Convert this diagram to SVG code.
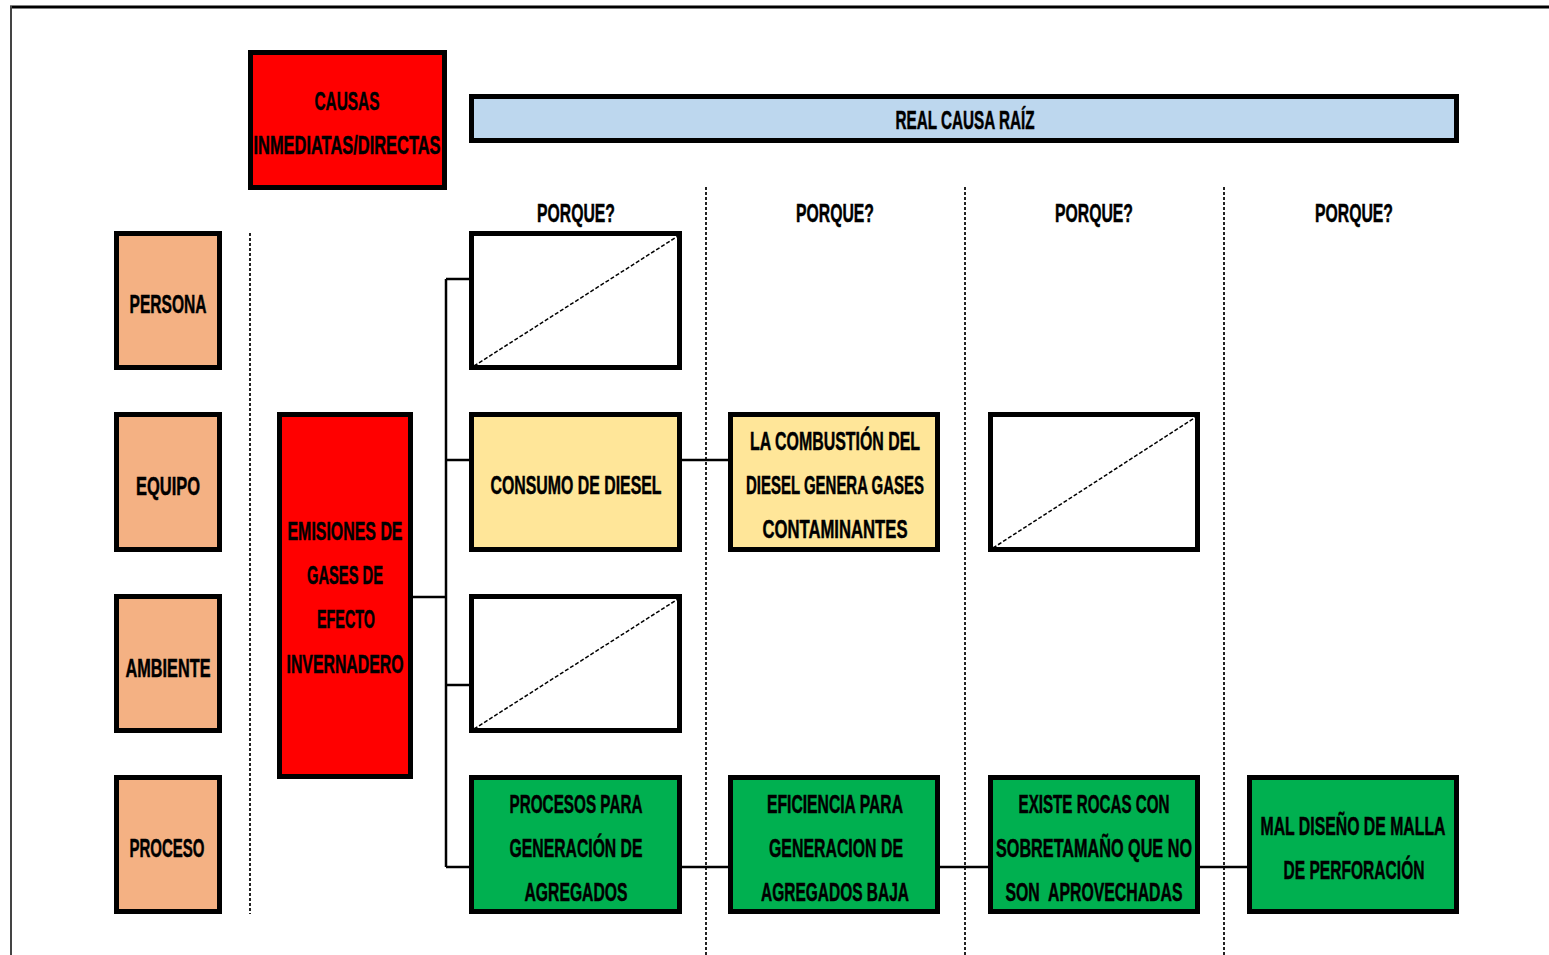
<svg xmlns="http://www.w3.org/2000/svg" width="1549" height="955" viewBox="0 0 1549 955">
<style>
.box{stroke:#000;stroke-width:5}
.red{fill:#FF0000}
.peach{fill:#F4B183}
.yel{fill:#FFE699}
.grn{fill:#00B050}
.blue{fill:#BDD7EE}
.wht{fill:#FFFFFF}
.diag{stroke:#000;stroke-width:1.5;stroke-dasharray:4 2;fill:none}
.sep{stroke:#222;stroke-width:2;stroke-dasharray:3 2;fill:none}
.con{stroke:#000;stroke-width:2.5;fill:none}
text{font-family:"Liberation Sans",Arial,sans-serif;font-weight:bold;font-size:26px;fill:#000;stroke:#000;stroke-width:0.5;text-anchor:middle}
</style>
<rect x="0" y="0" width="1549" height="955" fill="#FFFFFF"/>
<g id="frame">
<line x1="10" y1="7" x2="1549" y2="7" stroke="#000" stroke-width="3"/>
<line x1="11" y1="6" x2="11" y2="955" stroke="#444" stroke-width="2"/>
</g>
<g id="separators">
<line class="sep" x1="250" y1="233" x2="250" y2="914"/>
<line class="sep" x1="706" y1="187" x2="706" y2="955"/>
<line class="sep" x1="965" y1="187" x2="965" y2="955"/>
<line class="sep" x1="1224" y1="187" x2="1224" y2="955"/>
</g>
<g id="connectors">
<line class="con" x1="446" y1="279" x2="446" y2="867"/>
<line class="con" x1="413" y1="597" x2="446" y2="597"/>
<line class="con" x1="446" y1="279" x2="470" y2="279"/>
<line class="con" x1="446" y1="460" x2="470" y2="460"/>
<line class="con" x1="446" y1="685" x2="470" y2="685"/>
<line class="con" x1="446" y1="867" x2="470" y2="867"/>
<line class="con" x1="681" y1="460" x2="729" y2="460"/>
<line class="con" x1="681" y1="867" x2="729" y2="867"/>
<line class="con" x1="939" y1="867" x2="989" y2="867"/>
<line class="con" x1="1199" y1="867" x2="1248" y2="867"/>
</g>
<g id="causas">
<rect class="box red" x="250.5" y="52.5" width="194" height="135"/>
<text x="347" y="110" textLength="65" lengthAdjust="spacingAndGlyphs">CAUSAS</text>
<text x="347" y="154" textLength="187" lengthAdjust="spacingAndGlyphs">INMEDIATAS/DIRECTAS</text>
</g>
<g id="real-causa">
<rect class="box blue" x="471.5" y="96.5" width="985" height="44"/>
<text x="965" y="129" textLength="139" lengthAdjust="spacingAndGlyphs">REAL CAUSA RAÍZ</text>
</g>
<g id="porque-labels">
<text x="576" y="222" textLength="78" lengthAdjust="spacingAndGlyphs">PORQUE?</text>
<text x="835" y="222" textLength="78" lengthAdjust="spacingAndGlyphs">PORQUE?</text>
<text x="1094" y="222" textLength="78" lengthAdjust="spacingAndGlyphs">PORQUE?</text>
<text x="1354" y="222" textLength="78" lengthAdjust="spacingAndGlyphs">PORQUE?</text>
</g>
<g id="persona">
<rect class="box peach" x="116.5" y="233.5" width="103" height="134"/>
<text x="168" y="313" textLength="77" lengthAdjust="spacingAndGlyphs">PERSONA</text>
</g>
<g id="equipo">
<rect class="box peach" x="116.5" y="414.5" width="103" height="135"/>
<text x="168" y="495" textLength="64" lengthAdjust="spacingAndGlyphs">EQUIPO</text>
</g>
<g id="ambiente">
<rect class="box peach" x="116.5" y="596.5" width="103" height="134"/>
<text x="168" y="677" textLength="85" lengthAdjust="spacingAndGlyphs">AMBIENTE</text>
</g>
<g id="proceso">
<rect class="box peach" x="116.5" y="777.5" width="103" height="134"/>
<text x="167" y="857" textLength="75" lengthAdjust="spacingAndGlyphs">PROCESO</text>
</g>
<g id="emisiones">
<rect class="box red" x="279.5" y="414.5" width="131" height="362"/>
<text x="345" y="540" textLength="115" lengthAdjust="spacingAndGlyphs">EMISIONES DE</text>
<text x="345" y="584" textLength="76" lengthAdjust="spacingAndGlyphs">GASES DE</text>
<text x="346" y="628" textLength="58" lengthAdjust="spacingAndGlyphs">EFECTO</text>
<text x="345" y="673" textLength="117" lengthAdjust="spacingAndGlyphs">INVERNADERO</text>
</g>
<g id="blank-1">
<rect class="box wht" x="471.5" y="233.5" width="208" height="134"/>
<line class="diag" x1="474" y1="366" x2="678" y2="236"/>
</g>
<g id="consumo">
<rect class="box yel" x="471.5" y="414.5" width="208" height="135"/>
<text x="576" y="494" textLength="171" lengthAdjust="spacingAndGlyphs">CONSUMO DE DIESEL</text>
</g>
<g id="blank-2">
<rect class="box wht" x="471.5" y="596.5" width="208" height="134"/>
<line class="diag" x1="474" y1="729" x2="678" y2="599"/>
</g>
<g id="procesos">
<rect class="box grn" x="471.5" y="777.5" width="208" height="134"/>
<text x="576" y="813" textLength="133" lengthAdjust="spacingAndGlyphs">PROCESOS PARA</text>
<text x="576" y="857" textLength="133" lengthAdjust="spacingAndGlyphs">GENERACIÓN DE</text>
<text x="576" y="901" textLength="103" lengthAdjust="spacingAndGlyphs">AGREGADOS</text>
</g>
<g id="combustion">
<rect class="box yel" x="730.5" y="414.5" width="207" height="135"/>
<text x="835" y="450" textLength="170" lengthAdjust="spacingAndGlyphs">LA COMBUSTIÓN DEL</text>
<text x="835" y="494" textLength="178" lengthAdjust="spacingAndGlyphs">DIESEL GENERA GASES</text>
<text x="835" y="538" textLength="145" lengthAdjust="spacingAndGlyphs">CONTAMINANTES</text>
</g>
<g id="eficiencia">
<rect class="box grn" x="730.5" y="777.5" width="207" height="134"/>
<text x="835" y="813" textLength="136" lengthAdjust="spacingAndGlyphs">EFICIENCIA PARA</text>
<text x="836" y="857" textLength="134" lengthAdjust="spacingAndGlyphs">GENERACION DE</text>
<text x="835" y="901" textLength="148" lengthAdjust="spacingAndGlyphs">AGREGADOS BAJA</text>
</g>
<g id="blank-3">
<rect class="box wht" x="990.5" y="414.5" width="207" height="135"/>
<line class="diag" x1="993" y1="548" x2="1196" y2="417"/>
</g>
<g id="rocas">
<rect class="box grn" x="990.5" y="777.5" width="207" height="134"/>
<text x="1094" y="813" textLength="151" lengthAdjust="spacingAndGlyphs">EXISTE ROCAS CON</text>
<text x="1094" y="857" textLength="196" lengthAdjust="spacingAndGlyphs">SOBRETAMAÑO QUE NO</text>
<text x="1094" y="901" textLength="177" lengthAdjust="spacingAndGlyphs" xml:space="preserve">SON  APROVECHADAS</text>
</g>
<g id="malla">
<rect class="box grn" x="1249.5" y="777.5" width="207" height="134"/>
<text x="1353" y="835" textLength="185" lengthAdjust="spacingAndGlyphs">MAL DISEÑO DE MALLA</text>
<text x="1354" y="879" textLength="141" lengthAdjust="spacingAndGlyphs">DE PERFORACIÓN</text>
</g>
</svg>
